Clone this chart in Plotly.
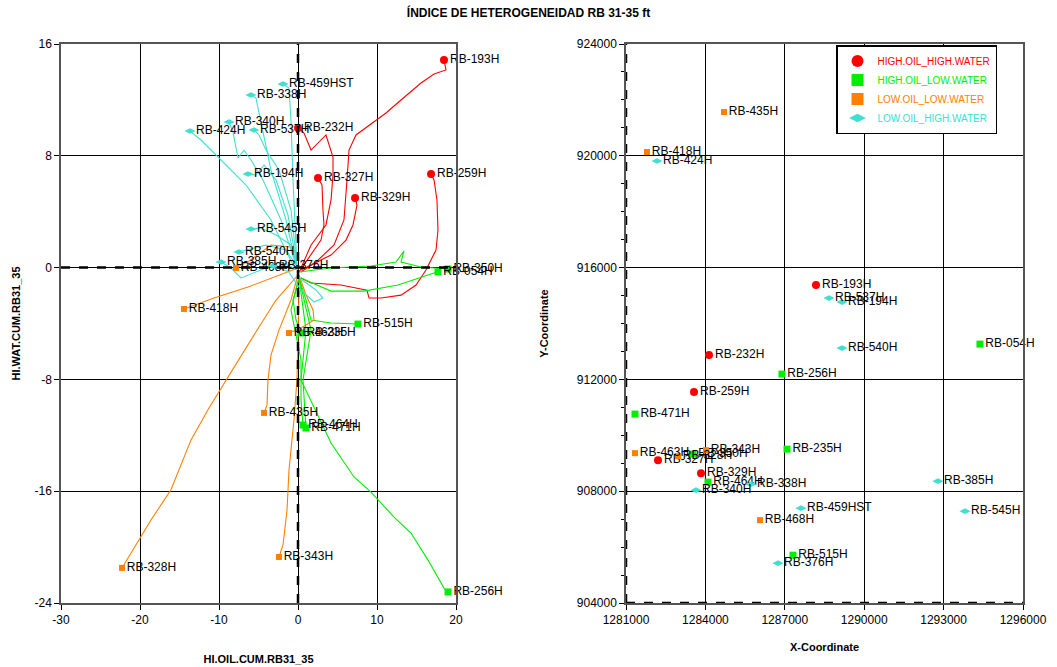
import plotly.graph_objects as go

# ---------------------------------------------------------------------------
# Cumulative heterogeneity index trajectories (HI oil vs HI water) per well.
# Each path runs from the start of production to the latest value.
# ---------------------------------------------------------------------------
HOHW_PATHS = {
    "RB-193H": ([0.38, 2.28, 4.56, 5.82, 6.20, 6.46, 7.34, 9.49, 11.14, 13.04, 15.57, 17.22, 18.73, 18.48],
                [-0.31, 0.40, 1.62, 3.41, 6.26, 8.41, 9.49, 10.35, 11.06, 11.99, 13.21, 13.85, 14.14, 14.86]),
    "RB-232H": ([0.38, 1.65, 3.54, 4.18, 4.43, 4.43, 3.54, 1.65, 0.76, 0.0],
                [-0.03, 1.62, 3.05, 4.84, 6.62, 7.91, 9.49, 8.41, 9.63, 9.99]),
    "RB-327H": ([0.13, 1.65, 2.91, 3.29, 3.16, 3.04, 2.53],
                [-0.31, 0.90, 1.97, 3.05, 4.12, 5.91, 6.41]),
    "RB-259H": ([0.38, 1.65, 5.44, 8.73, 8.99, 10.51, 13.04, 14.94, 16.20, 17.47, 17.72, 17.59, 17.22, 16.84],
                [-0.74, -1.10, -1.25, -1.61, -2.18, -2.18, -1.97, -1.25, -0.17, 1.26, 2.69, 4.84, 6.27, 6.70]),
    "RB-329H": ([0.38, 4.18, 6.08, 6.96, 7.47, 7.22],
                [-0.17, 0.90, 1.97, 3.05, 4.48, 4.98]),
}

HOLW_PATHS = {
    "RB-350H": ([0.13, 4.18, 9.24, 12.41, 13.42, 13.04, 15.57, 18.99],
                [-0.31, -0.03, 0.11, 0.40, 1.19, 0.40, 0.04, -0.10]),
    "RB-054H": ([0.38, 4.18, 8.35, 12.66, 17.22, 17.72],
                [-0.74, -1.68, -1.68, -1.25, -0.39, -0.31]),
    "RB-515H": ([0.13, 1.01, 1.65, 4.18, 7.59],
                [-0.74, -2.32, -3.75, -3.96, -4.04]),
    "RB-235H": ([0.13, -0.63, -0.25, 0.38],
                [-0.74, -2.32, -3.75, -4.68]),
    "RB-464H": ([0.13, -0.89, 0.38, 0.38, 0.63],
                [-0.74, -3.03, -6.60, -9.49, -11.26]),
    "RB-471H": ([0.13, 1.65, 0.63, 1.01],
                [-0.74, -4.47, -8.04, -11.48]),
    "RB-256H": ([0.13, 1.01, 0.38, 4.18, 7.09, 9.24, 12.15, 14.30, 16.46, 18.48, 18.99],
                [-0.74, -4.47, -8.04, -12.55, -14.98, -16.06, -17.85, -18.99, -20.93, -22.93, -23.21]),
}

LOLW_PATHS = {
    "RB-418H": ([0.0, -3.04, -6.33, -10.63, -14.43],
                [-0.03, -0.67, -1.39, -2.18, -2.96]),
    "RB-328H": ([0.0, -2.78, -5.95, -9.11, -11.27, -13.54, -16.08, -18.61, -21.14, -22.28],
                [-0.53, -2.32, -5.17, -8.04, -10.04, -12.33, -15.90, -18.06, -20.42, -21.49]),
    "RB-343H": ([0.13, -0.13, -0.51, -1.14, -1.39, -1.90, -2.41],
                [-1.60, -8.04, -10.91, -14.49, -17.35, -19.85, -20.71]),
    "RB-435H": ([0.0, -0.89, -2.41, -3.42, -3.80, -3.92, -4.30],
                [-0.53, -2.32, -4.47, -6.26, -8.04, -9.83, -10.40]),
    "RB-463H": ([0.13, 1.01, 1.90, 2.03, 0.38, -1.14],
                [-0.53, -1.96, -3.03, -3.75, -4.32, -4.68]),
    "RB-468H": ([0.0, -0.89, -3.42, -6.20, -7.85],
                [-0.17, 1.47, 1.62, 0.47, -0.03]),
}

LOHW_PATHS = {
    "RB-459HST": ([-0.13, -0.38, -0.63, -0.89, -1.14, -1.90],
                  [-0.03, 2.69, 6.27, 10.55, 12.85, 13.14]),
    "RB-338H": ([-0.25, -1.52, -3.42, -4.43, -5.32, -5.95],
                [0.19, 3.41, 6.98, 9.85, 12.13, 12.35]),
    "RB-340H": ([-0.25, -2.15, -4.43, -5.95, -6.84, -7.59, -8.23, -8.73],
                [0.19, 3.41, 6.27, 7.70, 8.41, 7.84, 9.70, 10.42]),
    "RB-424H": ([-0.63, -3.42, -6.58, -9.75, -12.28, -13.67],
                [0.19, 3.41, 5.91, 7.70, 9.13, 9.77]),
    "RB-537H": ([-0.13, -0.89, -2.41, -4.05, -4.94, -5.57],
                [0.19, 4.12, 6.98, 8.41, 9.49, 9.85]),
    "RB-194H": ([-0.13, -1.27, -2.78, -4.30, -5.32, -6.33],
                [0.19, 3.76, 6.27, 7.34, 6.63, 6.70]),
    "RB-545H": ([0.0, -0.89, -2.78, -4.68, -5.95],
                [-0.03, 1.62, 2.33, 2.83, 2.76]),
    "RB-540H": ([0.0, -1.52, -4.05, -6.58, -7.47],
                [-0.03, 1.26, 1.62, 1.26, 1.12]),
    "RB-385H": ([0.0, -2.15, -4.68, -7.22, -8.48, -9.75],
                [-0.17, 0.40, -0.17, -0.74, -0.03, 0.40]),
    "RB-376H": ([-0.20, 2.28, 3.16, 2.03, 0.38, -1.20, -3.16],
                [-0.60, -1.60, -2.18, -2.46, -1.60, -0.30, 0.11]),
}

# ---------------------------------------------------------------------------
# Surface location of each well (X / Y coordinates)
# ---------------------------------------------------------------------------
HOHW_WELLS = ["RB-193H", "RB-232H", "RB-259H", "RB-327H", "RB-329H"]
HOHW_XCOORD = [1288179, 1284136, 1283569, 1282209, 1283834]
HOHW_YCOORD = [915377, 912869, 911545, 909111, 908646]

HOLW_WELLS = ["RB-054H", "RB-256H", "RB-471H", "RB-235H", "RB-350H", "RB-464H", "RB-515H"]
HOLW_XCOORD = [1294374, 1286894, 1281340, 1287083, 1283531, 1284098, 1287309]
HOLW_YCOORD = [913263, 912190, 910758, 909505, 909326, 908324, 905711]

LOLW_WELLS = ["RB-435H", "RB-418H", "RB-463H", "RB-328H", "RB-343H", "RB-468H"]
LOLW_XCOORD = [1284702, 1281793, 1281340, 1282965, 1284022, 1286063]
LOLW_YCOORD = [921566, 920135, 909362, 909255, 909469, 906964]

LOHW_WELLS = ["RB-424H", "RB-537H", "RB-194H", "RB-540H", "RB-385H", "RB-545H",
              "RB-459HST", "RB-340H", "RB-338H", "RB-376H"]
LOHW_XCOORD = [1282171, 1288670, 1289160, 1289160, 1292788, 1293808,
               1287612, 1283645, 1285723, 1286742]
LOHW_YCOORD = [919813, 914909, 914766, 913120, 908360, 907286,
               907393, 908038, 908253, 905425]

# Axis ticks
HI_OIL_TICKS = [-30, -20, -10, 0, 10, 20]
HI_OIL_LABELS = ["-30", "-20", "-10", "0", "10", "20"]
HI_WAT_TICKS = [-24, -16, -8, 0, 8, 16]
HI_WAT_LABELS = ["-24", "-16", "-8", "0", "8", "16"]

# Category styling
GROUPS = [
    ("HIGH.OIL_HIGH.WATER", "#ff0000", "circle", 8, HOHW_PATHS, HOHW_WELLS, HOHW_XCOORD, HOHW_YCOORD),
    ("HIGH.OIL_LOW.WATER", "#00ee00", "square", 7, HOLW_PATHS, HOLW_WELLS, HOLW_XCOORD, HOLW_YCOORD),
    ("LOW.OIL_LOW.WATER", "#ff8000", "square", 6, LOLW_PATHS, LOLW_WELLS, LOLW_XCOORD, LOLW_YCOORD),
    ("LOW.OIL_HIGH.WATER", "#40e0d0", "diamond-wide", 8, LOHW_PATHS, LOHW_WELLS, LOHW_XCOORD, LOHW_YCOORD),
]

FONT = "Liberation Sans, Arial, sans-serif"
NARROW = "Liberation Sans Narrow, Arial Narrow, Liberation Sans, Arial, sans-serif"

fig = go.Figure()

# Left panel: trajectories
for name, color, symbol, size, paths, *_ in GROUPS:
    for well, (xs, ys) in paths.items():
        fig.add_trace(go.Scatter(
            x=xs, y=ys, mode="lines", line=dict(color=color, width=1.1),
            xaxis="x", yaxis="y", showlegend=False, hoverinfo="skip"))

# Left panel: latest point of every trajectory, labelled
for name, color, symbol, size, paths, *_ in GROUPS:
    wells = list(paths.keys())
    fig.add_trace(go.Scatter(
        x=[paths[w][0][-1] for w in wells], y=[paths[w][1][-1] for w in wells],
        mode="markers+text", text=wells, textposition="middle right",
        textfont=dict(family=FONT, size=12, color="#000000"),
        marker=dict(color=color, symbol=symbol, size=size, line=dict(width=0)),
        xaxis="x", yaxis="y", showlegend=False, cliponaxis=False))

# Right panel: well locations
for name, color, symbol, size, paths, wells, xc, yc in GROUPS:
    fig.add_trace(go.Scatter(
        x=xc, y=yc, mode="markers+text", text=wells, textposition="middle right",
        textfont=dict(family=FONT, size=12, color="#000000"),
        marker=dict(color=color, symbol=symbol, size=size, line=dict(width=0)),
        name=f"<span style='color:{color}'>{name}</span>",
        xaxis="x2", yaxis="y2", showlegend=True, cliponaxis=False))

W, H = 1057, 667
left_dom = [61 / W, 456 / W]
right_dom = [626 / W, 1023 / W]
y_dom = [1 - 603 / H, 1 - 44 / H]

axis_common = dict(
    showgrid=True, gridcolor="#000000", gridwidth=1,
    showline=True, linecolor="#555555", linewidth=1.5, mirror=True,
    ticks="outside", ticklen=5, tickcolor="#000000",
    tickfont=dict(family=FONT, size=12, color="#000000"),
    zeroline=False, automargin=False,
)
title_font = dict(family=NARROW, size=11, color="#000000")

fig.update_layout(
    width=W, height=H,
    margin=dict(l=0, r=0, t=0, b=0),
    paper_bgcolor="white", plot_bgcolor="white",
    title=dict(text="<b>ÍNDICE DE HETEROGENEIDAD RB 31-35 ft</b>",
               font=dict(family=NARROW, size=12, color="#000000"),
               x=0.5, xanchor="center", y=1 - 13 / H, yanchor="middle"),
    xaxis=dict(domain=left_dom, anchor="y", range=[-30, 20],
               tickmode="array", tickvals=HI_OIL_TICKS, ticktext=HI_OIL_LABELS,
               title=dict(text="<b>HI.OIL.CUM.RB31_35</b>", font=title_font, standoff=29),
               **axis_common),
    yaxis=dict(domain=y_dom, anchor="x", range=[-24, 16],
               tickmode="array", tickvals=HI_WAT_TICKS, ticktext=HI_WAT_LABELS,
               title=dict(text="<b>HI.WAT.CUM.RB31_35</b>", font=title_font, standoff=12),
               **axis_common),
    xaxis2=dict(domain=right_dom, anchor="y2", range=[1281000, 1296000], dtick=3000,
                tick0=1281000, tickformat="d",
                title=dict(text="<b>X-Coordinate</b>", font=title_font, standoff=17),
                **axis_common),
    yaxis2=dict(domain=y_dom, anchor="x2", range=[904000, 924000], dtick=4000,
                tick0=904000, tickformat="d",
                minor=dict(dtick=1000, ticks="outside", ticklen=3, tickcolor="#000000", showgrid=False),
                title=dict(text="<b>Y-Coordinate</b>", font=title_font, standoff=26),
                **axis_common),
    legend=dict(x=836 / W, y=1 - 45 / H, xanchor="left", yanchor="top",
                bgcolor="white", bordercolor="#000000", borderwidth=1.5,
                font=dict(family=FONT, size=10), tracegroupgap=0,
                itemsizing="constant", itemwidth=30),
    showlegend=True,
)

# Dashed reference lines: zero axes on the left panel, lower/left limits on the right panel
dash_line = dict(color="#000000", width=2.5, dash="dash")
fig.add_shape(type="line", xref="x", yref="y domain", x0=0, x1=0, y0=0, y1=1, line=dash_line, layer="above")
fig.add_shape(type="line", xref="x domain", yref="y", x0=0, x1=1, y0=0, y1=0, line=dash_line, layer="above")
fig.add_shape(type="line", xref="x2", yref="y2 domain", x0=1281000, x1=1281000, y0=0, y1=1, line=dash_line, layer="above")
fig.add_shape(type="line", xref="x2 domain", yref="y2", x0=0, x1=1, y0=904000, y1=904000, line=dash_line, layer="above")

fig.write_html("out.html")
